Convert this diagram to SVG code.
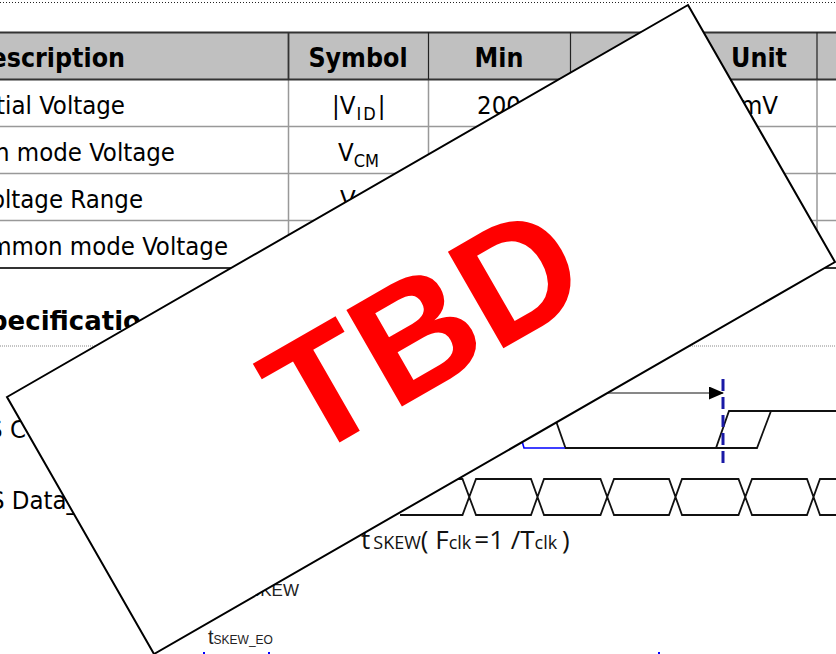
<svg xmlns="http://www.w3.org/2000/svg" width="836" height="654" viewBox="0 0 836 654">
<style>
text{font-family:"DejaVu Sans Condensed","DejaVu Sans",sans-serif;font-stretch:condensed;fill:#000}
.hd{font-size:26.500px;font-weight:bold;text-anchor:middle}
.hdl{font-size:26.500px;font-weight:bold;text-anchor:end}
.td{font-size:25.500px}
.end{text-anchor:end}
.mid{text-anchor:middle}
.sub{font-size:18px}
.grid{stroke:#999;stroke-width:1.500;fill:none}
.dark{stroke:#333;stroke-width:1.800;fill:none}
.wave{stroke:#111;stroke-width:1.800;fill:none}
.sans{font-family:"Open Sans","Liberation Sans",sans-serif;font-stretch:normal;fill:#111}
.arial{font-family:"Liberation Sans",sans-serif;font-stretch:normal;fill:#222}
</style>
<defs><marker id="arr" markerWidth="15" markerHeight="13" refX="14" refY="6.5" orient="auto" markerUnits="userSpaceOnUse"><path d="M0 0L15 6.500L0 13Z" fill="#000"/></marker></defs>
<rect width="836" height="654" fill="#fff"/>
<g id="page-rules">
<line x1="0" y1="2.500" x2="836" y2="2.500" stroke="#222" stroke-width="1" stroke-dasharray="1 2"/>
<line x1="0" y1="346" x2="836" y2="346" stroke="#888" stroke-width="1" stroke-dasharray="1 1"/>
</g>
<g id="table">
<rect x="-2" y="32" width="840" height="47" fill="#c0c0c0"/>
<path class="grid" d="M-2 126.500H838M-2 173.500H838M-2 220.500H838M288.500 79V268M428.500 79V268M570 79V268M817 79V268"/>
<path class="dark" d="M-2 32.500H838M-2 79.500H838M-2 268H838M288.500 32V79"/>
<path d="M428.500 32V79M570.500 32V79M817 32V79" stroke="#222" stroke-width="1.200" fill="none"/>
<text class="hdl" x="125" y="67">escription</text>
<text class="hd" x="358" y="67">Symbol</text>
<text class="hd" x="499" y="67">Min</text>
<text class="hd" x="759" y="67">Unit</text>
<text class="td end" x="125" y="114">tial Voltage</text>
<text class="td end" x="175" y="161">n mode Voltage</text>
<text class="td end" x="143" y="208">oltage Range</text>
<text class="td end" x="228" y="255">mmon mode Voltage</text>
<text class="td" x="332" y="114">|V<tspan class="sub" dy="6" dx="1" letter-spacing="2">ID</tspan><tspan dy="-6">|</tspan></text>
<text class="td" x="338" y="161">V<tspan class="sub" dy="6">CM</tspan></text>
<text class="td" x="340" y="208">V</text>
<text class="td mid" x="499" y="114">200</text>
<text class="td" x="740" y="114">mV</text>
</g>
<g id="section-title"><text x="141" y="330" font-size="26" font-weight="bold" text-anchor="end" style="font-stretch:normal;font-family:'DejaVu Sans',sans-serif">pecificatio</text></g>
<g id="labels">
<text x="26" y="438" font-size="25.500" text-anchor="end">S C</text>
<text x="78" y="509" font-size="25.500" text-anchor="end">S Data_</text>
</g>
<g id="timing">
<path class="wave" d="M556 421L565.500 448H716L729 411H771L757 448H716M771 411H838"/>
<path d="M522 441L524 448H565" fill="none" stroke="#00f" stroke-width="1.600"/>
<line x1="600" y1="393" x2="723" y2="393" stroke="#111" stroke-width="1" marker-end="url(#arr)"/>
<line x1="723" y1="379" x2="723" y2="467" stroke="#1a1aa6" stroke-width="3" stroke-dasharray="12 6"/>
<path class="wave" d="M400 515H462.500L476 479H531L544 515H600.500L614 479H669L682 515H738.500L752 479H807L820 515H838M400 479H462.500L476 515H531L544 479H600.500L614 515H669L682 479H738.500L752 515H807L820 479H838"/>
</g>
<g id="skew-labels">
<text class="sans" x="361" y="549" font-size="26">t<tspan font-size="18" dx="3">SKEW</tspan><tspan>( F</tspan><tspan font-size="18">clk</tspan><tspan dx="3">=1 /T</tspan><tspan font-size="18">clk</tspan><tspan dx="-2"> )</tspan></text>
<text class="arial" x="299" y="596" font-size="17" text-anchor="end">SKEW</text>
<text class="arial" x="208" y="644" font-size="20">t<tspan font-size="12">SKEW_EO</tspan></text>
<path d="M203 653H205M268 653H270M658 653H660" stroke="#00f" stroke-width="2"/>
</g>
<g id="tbd-stamp">
<polygon points="688,5 835,262 154,654 7,397" fill="#fff" stroke="#000" stroke-width="2"/>
<text transform="translate(306.700,461.300) rotate(-29.900)" font-size="162" font-weight="bold" style="fill:#f00;font-family:'Liberation Sans',sans-serif;font-stretch:normal">TBD</text>
</g>
</svg>
